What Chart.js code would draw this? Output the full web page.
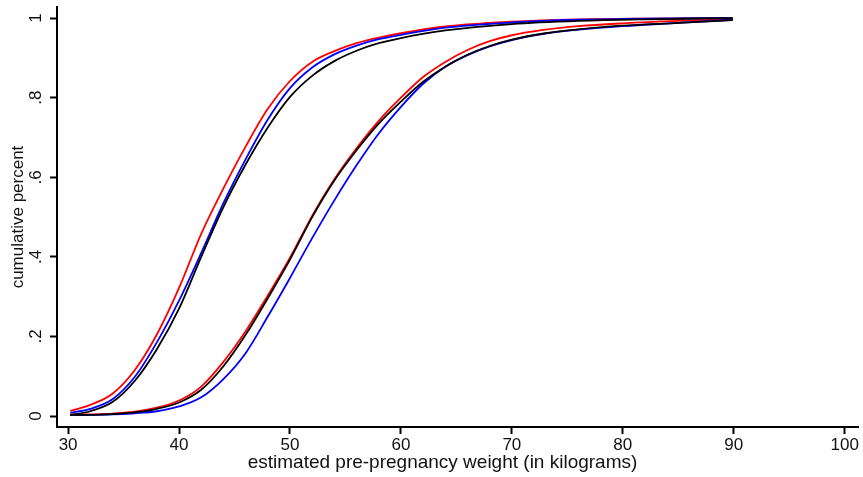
<!DOCTYPE html>
<html>
<head>
<meta charset="utf-8">
<script src="https://cdn.jsdelivr.net/npm/chart.js@4.4.1/dist/chart.umd.min.js"></script>
<style>
    html, body { margin: 0; padding: 0; background: #fff; }
</style>
</head>
<body>
<canvas id="graficaPeso" width="863" height="477"></canvas>
<script>
// ---- data ----
const xTicks = [30, 40, 50, 60, 70, 80, 90, 100];
const yTicks = [0, 0.2, 0.4, 0.6, 0.8, 1];
const yTickLabels = ['0', '.2', '.4', '.6', '.8', '1'];
const xTitle = 'estimated pre-pregnancy weight (in kilograms)';
const yTitle = 'cumulative percent';

// left group
const leftBlackX = [30.2, 32, 34, 36, 38, 40, 42, 44, 46, 48, 50, 52, 54, 56, 58, 60, 64, 70, 76, 82, 89.9];
const leftBlackY = [0.003, 0.012, 0.035, 0.088, 0.168, 0.27, 0.4, 0.525, 0.632, 0.725, 0.802, 0.855, 0.892, 0.918, 0.937, 0.95, 0.969, 0.985, 0.993, 0.997, 1.0];

const leftBlueX = [30.2, 32, 34, 36, 38, 40, 42, 44, 46, 48, 50, 52, 54, 56, 58, 60, 64, 70, 76, 82, 89.9];
const leftBlueY = [0.008, 0.018, 0.042, 0.098, 0.185, 0.29, 0.41, 0.535, 0.645, 0.745, 0.824, 0.876, 0.909, 0.931, 0.947, 0.958, 0.976, 0.989, 0.996, 0.999, 1.0];

const leftRedX = [30.2, 32, 34, 36, 38, 40, 42, 44, 46, 48, 50, 52, 54, 56, 58, 60, 64, 70, 76, 82, 89.9];
const leftRedY = [0.013, 0.028, 0.056, 0.115, 0.205, 0.322, 0.458, 0.572, 0.677, 0.772, 0.842, 0.89, 0.917, 0.937, 0.951, 0.962, 0.979, 0.991, 0.997, 0.999, 1.0];

// right group
const rightBlackX = [30.2, 34, 36, 38, 40, 42, 44, 46, 48, 50, 52, 54, 56, 58, 60, 62, 64, 66, 68, 70, 73, 76, 80, 85, 89.9];
const rightBlackY = [0.002, 0.005, 0.009, 0.018, 0.034, 0.066, 0.125, 0.204, 0.296, 0.393, 0.5, 0.592, 0.668, 0.735, 0.79, 0.84, 0.878, 0.908, 0.93, 0.946, 0.962, 0.972, 0.981, 0.988, 0.995];

const rightBlueX = [30.2, 34, 36, 38, 40, 42, 44, 46, 48, 50, 52, 54, 56, 58, 60, 62, 64, 66, 68, 70, 73, 76, 80, 85, 89.9];
const rightBlueY = [0.002, 0.004, 0.007, 0.012, 0.024, 0.047, 0.093, 0.158, 0.25, 0.347, 0.447, 0.542, 0.63, 0.71, 0.777, 0.835, 0.878, 0.907, 0.929, 0.945, 0.961, 0.971, 0.98, 0.988, 0.996];

const rightRedX = [30.2, 34, 36, 38, 40, 42, 44, 46, 48, 50, 52, 54, 56, 58, 60, 62, 64, 66, 68, 70, 73, 76, 80, 85, 89.9];
const rightRedY = [0.003, 0.006, 0.011, 0.021, 0.039, 0.074, 0.136, 0.213, 0.303, 0.398, 0.503, 0.595, 0.673, 0.742, 0.80, 0.852, 0.89, 0.92, 0.942, 0.957, 0.971, 0.98, 0.987, 0.993, 0.997];

function puntos(xs, ys) {
    return xs.map(function(x, i) { return { x: x, y: ys[i] }; });
}

function serie(xs, ys, color) {
    return {
        data: puntos(xs, ys),
        borderColor: color,
        borderWidth: 1.8,
        pointRadius: 0,
        fill: false,
        cubicInterpolationMode: 'monotone'
    };
}

const familia = '"Liberation Sans", Arial, sans-serif';
const fuente = { family: familia, size: 17 };

// y tick labels (rotated) and x title, drawn from the scales
const etiquetas = {
    id: 'etiquetas',
    afterDraw: function(chart) {
        const c = chart.ctx;
        const y = chart.scales.y;
        const area = chart.chartArea;
        c.save();
        c.fillStyle = '#111';
        c.font = '17px ' + familia;
        c.textAlign = 'center';
        c.textBaseline = 'alphabetic';
        yTicks.forEach(function(v, i) {
            c.save();
            c.translate(y.left + 41, y.getPixelForValue(v));
            c.rotate(-Math.PI / 2);
            c.fillText(yTickLabels[i], 0, 0);
            c.restore();
        });
        c.font = '19px ' + familia;
        c.textBaseline = 'middle';
        c.fillText(xTitle, (area.left + area.right) / 2 - 15, 463);
        c.restore();
    }
};

const ctx = document.getElementById('graficaPeso').getContext('2d');
const myChart = new Chart(ctx, {
    type: 'line',
    data: {
        datasets: [
            serie(leftBlackX, leftBlackY, '#000000'),
            serie(rightBlackX, rightBlackY, '#000000'),
            serie(leftBlueX, leftBlueY, '#0000ff'),
            serie(rightBlueX, rightBlueY, '#0000ff'),
            serie(leftRedX, leftRedY, '#ff0000'),
            serie(rightRedX, rightRedY, '#ff0000')
        ]
    },
    options: {
        responsive: false,
        animation: false,
        devicePixelRatio: 1,
        layout: { padding: { top: 7, right: 5, left: 0, bottom: 0 } },
        plugins: {
            legend: { display: false },
            tooltip: { enabled: false }
        },
        scales: {
            x: {
                type: 'linear',
                min: 29.0,
                max: 101.2,
                afterBuildTicks: function(scale) {
                    scale.ticks = xTicks.map(function(v) { return { value: v }; });
                },
                afterFit: function(scale) { scale.height = 50; },
                grid: { drawOnChartArea: false, tickLength: 7, tickWidth: 2, color: '#000' },
                border: { display: true, width: 2, color: '#000' },
                ticks: { font: fuente, color: '#111', padding: 1, maxRotation: 0 }
            },
            y: {
                type: 'linear',
                min: -0.0276,
                max: 1.028,
                afterBuildTicks: function(scale) {
                    scale.ticks = yTicks.map(function(v) { return { value: v }; });
                },
                afterFit: function(scale) { scale.width = 57; },
                grid: { drawOnChartArea: false, tickLength: 7, tickWidth: 2, color: '#000' },
                border: { display: true, width: 2, color: '#000' },
                ticks: { display: false },
                title: {
                    display: true,
                    text: yTitle,
                    font: fuente,
                    color: '#111',
                    padding: { top: 8, bottom: 0 }
                }
            }
        }
    },
    plugins: [etiquetas]
});
</script>
</body>
</html>
